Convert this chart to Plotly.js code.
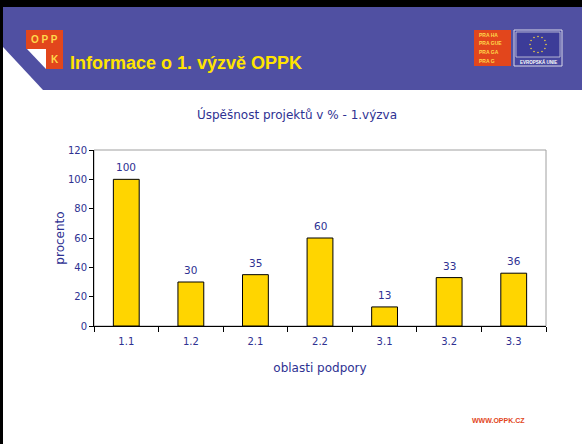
<!DOCTYPE html>
<html><head><meta charset="utf-8">
<script src="https://cdn.plot.ly/plotly-3.0.1.min.js"></script>
<style>html,body{margin:0;padding:0;background:#fff;}#chart{width:582px;height:444px;}</style>
</head><body><div id="chart"></div>
<script>
var categories = ['1.1','1.2','2.1','2.2','3.1','3.2','3.3'];
var values = [100, 30, 35, 60, 13, 33, 36];
var yTickVals = [0, 20, 40, 60, 80, 100, 120];
var chartTitle = 'Úspěšnost projektů v % - 1.výzva';
var xTitle = 'oblasti podpory';
var yTitle = 'procento';
var headerTitle = 'Informace o 1. výzvě OPPK';
var praguLines = ['PRA HA','PRA GUE','PRA GA','PRA G'];
var footerText = 'WWW.OPPK.CZ';

var W = 582, H = 444, L = 94, R = 546, T = 150, B = 326;
function X(px){ return (px - L) / (R - L); }
function Y(py){ return (B - py) / (B - T); }
function rect(x0,y0,x1,y1,fill,line,lw,layer){
  return {type:'rect',xref:'paper',yref:'paper',x0:X(x0),x1:X(x1),y0:Y(y1),y1:Y(y0),
    fillcolor:fill,line:{color:line||fill,width:lw===undefined?0:lw},layer:layer||'above'};
}
function poly(pts,fill){
  var d = pts.map(function(p,i){return (i?'L':'M')+X(p[0])+','+Y(p[1]);}).join(' ')+' Z';
  return {type:'path',xref:'paper',yref:'paper',path:d,fillcolor:fill,line:{width:0},layer:'above'};
}
function txt(x,y,t,size,color,bold,xanchor,family){
  return {xref:'paper',yref:'paper',x:X(x),y:Y(y),text:bold?'<b>'+t+'</b>':t,showarrow:false,
    xanchor:xanchor||'center',yanchor:'middle',font:{size:size,color:color,family:family||'Liberation Sans, Arial, sans-serif'}};
}

var purple = '#5050A2';
var shapes = [
  rect(0,0,W,7,'#000'),
  rect(0,0,3,H,'#000'),
  rect(3,7,W,90,purple),
  poly([[3,47],[3,90],[43,90]],'#fff'),
  rect(26,30,63,69,'#E2461C'),
  rect(26,49,46,69,purple),
  poly([[27,49],[46,49],[46,69]],'#fff'),
  rect(474,30,511,66,'#E2461C'),
  rect(514,30,562,66,'#4848A0','#D8D8E8',1),
  rect(516,32,560,57,'#3C3C98','#D0D0E0',0.8),
  {type:'rect',xref:'paper',yref:'paper',x0:0,x1:1,y0:0,y1:1,line:{color:'#A0A0A0',width:1},layer:'below'}
];
for (var k=0;k<12;k++){
  var a = k*Math.PI/6, cx = 538 + 8*Math.cos(a), cy = 44.5 + 8*Math.sin(a);
  shapes.push({type:'circle',xref:'paper',yref:'paper',x0:X(cx-0.8),x1:X(cx+0.8),y0:Y(cy+0.8),y1:Y(cy-0.8),
    fillcolor:'#F0D040',line:{width:0},layer:'above'});
}

var annotations = [
  txt(68,63,headerTitle,18,'#FFE400',true,'left','Liberation Sans, Arial, sans-serif'),
  txt(44.5,39,'O P P',10,'#FFD84A',true),
  txt(55,60,'K',10,'#FFD84A',true),
  txt(538,62,'EVROPSKÁ UNIE',4.5,'#FFFFFF',true),
  txt(498,420,footerText,7,'#E2461C',true)
];
praguLines.forEach(function(s,i){ annotations.push(txt(477,35+i*8.5,s,5,'#FFD84A',true,'left')); });
categories.forEach(function(c,i){
  annotations.push({x:i,y:values[i],xref:'x',yref:'y',text:String(values[i]),showarrow:false,
    yanchor:'bottom',yshift:4,
    font:{size:10.5,color:'#2E3192',family:'DejaVu Sans, Verdana, sans-serif'}});
});

var trace = {type:'bar',x:categories,y:values,marker:{color:'#FFD500',line:{color:'#000',width:1}},
  hoverinfo:'skip'};

var tickFont = {size:10,color:'#2E3192',family:'DejaVu Sans, Verdana, sans-serif'};
var titleFont = {size:12,color:'#2E3192',family:'DejaVu Sans, Verdana, sans-serif'};
var layout = {
  width:W,height:H,margin:{l:L,r:W-R,t:T,b:H-B,pad:0},
  paper_bgcolor:'#fff',plot_bgcolor:'#fff',showlegend:false,bargap:0.6,
  title:{text:chartTitle,xref:'container',x:297/W,xanchor:'center',yref:'container',y:1-115/H,yanchor:'middle',
    font:titleFont},
  xaxis:{type:'category',showgrid:false,zeroline:false,showline:true,linecolor:'#000',linewidth:1,
    ticks:'outside',tickson:'boundaries',ticklen:5,tickcolor:'#000',tickfont:tickFont,ticklabelstandoff:6,
    title:{text:xTitle,standoff:17,font:titleFont}},
  yaxis:{range:[0,120],tickvals:yTickVals,showgrid:false,zeroline:false,showline:true,linecolor:'#000',linewidth:1,
    ticks:'outside',ticklen:4,tickcolor:'#000',tickfont:tickFont,
    title:{text:yTitle,standoff:0,font:titleFont}},
  shapes:shapes,annotations:annotations
};
Plotly.newPlot('chart',[trace],layout,{displayModeBar:false,staticPlot:true});
</script></body></html>
